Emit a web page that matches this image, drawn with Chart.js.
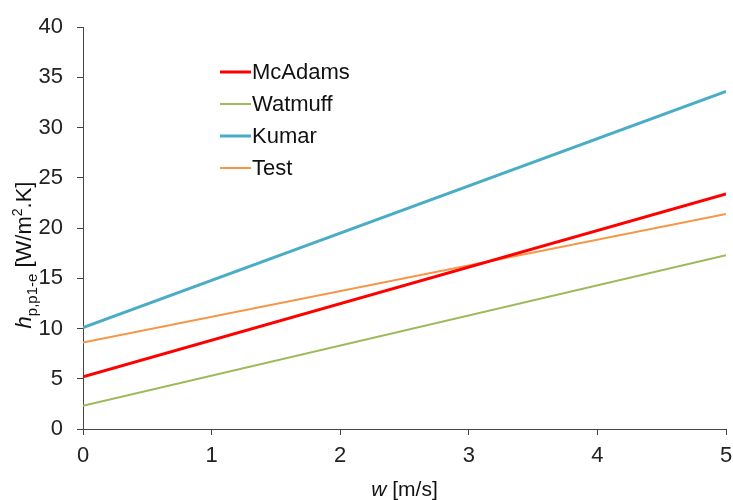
<!DOCTYPE html>
<html>
<head>
<meta charset="utf-8">
<script src="https://cdn.jsdelivr.net/npm/chart.js@4.4.1/dist/chart.umd.min.js"></script>
<style>
  html, body { margin: 0; padding: 0; background: #fff; }
  #wrap { width: 733px; height: 500px; }
</style>
</head>
<body>
<div id="wrap"><canvas id="hChart" width="733" height="500"></canvas></div>
<script>
// data
const speeds = [0, 5];               // w [m/s]
const mcAdams = [5.2, 23.4];
const watmuff = [2.3, 17.3];
const kumar = [10.1, 33.6];
const test = [8.6, 21.4];
const xTicks = [0, 1, 2, 3, 4, 5];
const yTicks = [0, 5, 10, 15, 20, 25, 30, 35, 40];

const FONT = '"Liberation Sans", Arial, sans-serif';
const AXIS = '#444';

function pts(vals) {
    return speeds.map(function(x, i) { return { x: x, y: vals[i] }; });
}

// legend drawn inside the plot, top left
const insideLegend = {
    id: 'insideLegend',
    afterDraw: function(chart) {
        const ctx = chart.ctx;
        ctx.save();
        ctx.font = '22px ' + FONT;
        ctx.textBaseline = 'middle';
        chart.data.datasets.forEach(function(ds, i) {
            const y = 72 + i * 32;
            ctx.strokeStyle = ds.borderColor;
            ctx.lineWidth = ds.borderWidth;
            ctx.beginPath();
            ctx.moveTo(220, y);
            ctx.lineTo(251, y);
            ctx.stroke();
            ctx.fillStyle = '#111';
            ctx.fillText(ds.label, 252, y + 1);
        });
        ctx.restore();
    }
};

// axis titles with italic symbols, sub- and superscripts
const axisTitles = {
    id: 'axisTitles',
    afterDraw: function(chart) {
        const ctx = chart.ctx;
        const area = chart.chartArea;
        ctx.save();
        ctx.fillStyle = '#111';
        ctx.textBaseline = 'alphabetic';

        // x title
        const partsX = [['italic 21px ' + FONT, 'w', 0], ['21px ' + FONT, ' [m/s]', 0]];
        drawRich(ctx, partsX, (area.left + area.right) / 2, 496);

        // y title, rotated
        ctx.translate(31, 255);
        ctx.rotate(-Math.PI / 2);
        const partsY = [
            ['italic 22px ' + FONT, 'h', 0],
            ['15px ' + FONT, 'p,p1-e', 6],
            ['22px ' + FONT, ' [W/m', 0],
            ['14px ' + FONT, '2', -9],
            ['22px ' + FONT, '.K]', 0]
        ];
        drawRich(ctx, partsY, 0, 0);
        ctx.restore();
    }
};

function drawRich(ctx, parts, cx, baseY) {
    let total = 0;
    parts.forEach(function(p) { ctx.font = p[0]; total += ctx.measureText(p[1]).width; });
    let x = cx - total / 2;
    parts.forEach(function(p) {
        ctx.font = p[0];
        ctx.fillText(p[1], x, baseY + p[2]);
        x += ctx.measureText(p[1]).width;
    });
}

const ctx = document.getElementById('hChart');
new Chart(ctx, {
    type: 'line',
    data: {
        datasets: [{
            label: 'McAdams',
            data: pts(mcAdams),
            borderColor: '#FF0000',
            borderWidth: 3
        }, {
            label: 'Watmuff',
            data: pts(watmuff),
            borderColor: '#9BBB59',
            borderWidth: 2
        }, {
            label: 'Kumar',
            data: pts(kumar),
            borderColor: '#4BACC6',
            borderWidth: 3
        }, {
            label: 'Test',
            data: pts(test),
            borderColor: '#F79646',
            borderWidth: 2
        }]
    },
    options: {
        responsive: false,
        animation: false,
        elements: { point: { radius: 0 }, line: { tension: 0 } },
        layout: { padding: { top: 26, right: 2, left: 0, bottom: 0 } },
        plugins: {
            legend: { display: false },
            tooltip: { enabled: false }
        },
        scales: {
            x: {
                type: 'linear',
                min: 0,
                max: 5,
                afterBuildTicks: function(scale) {
                    scale.ticks = xTicks.map(function(v) { return { value: v }; });
                },
                afterFit: function(scale) {
                    scale.height = 71;
                    scale.paddingRight = 7;
                },
                grid: { display: true, drawOnChartArea: false, drawTicks: true, tickLength: 6, color: AXIS },
                border: { display: true, color: AXIS, width: 1 },
                ticks: { font: { size: 22, family: FONT }, color: '#222', padding: 8, maxRotation: 0 }
            },
            y: {
                min: 0,
                max: 40,
                afterBuildTicks: function(scale) {
                    scale.ticks = yTicks.map(function(v) { return { value: v }; });
                },
                afterFit: function(scale) { scale.width = 83; },
                grid: { display: true, drawOnChartArea: false, drawTicks: true, tickLength: 6, color: AXIS },
                border: { display: true, color: AXIS, width: 1 },
                ticks: { font: { size: 22, family: FONT }, color: '#222', padding: 14 }
            }
        }
    },
    plugins: [insideLegend, axisTitles]
});
</script>
</body>
</html>
